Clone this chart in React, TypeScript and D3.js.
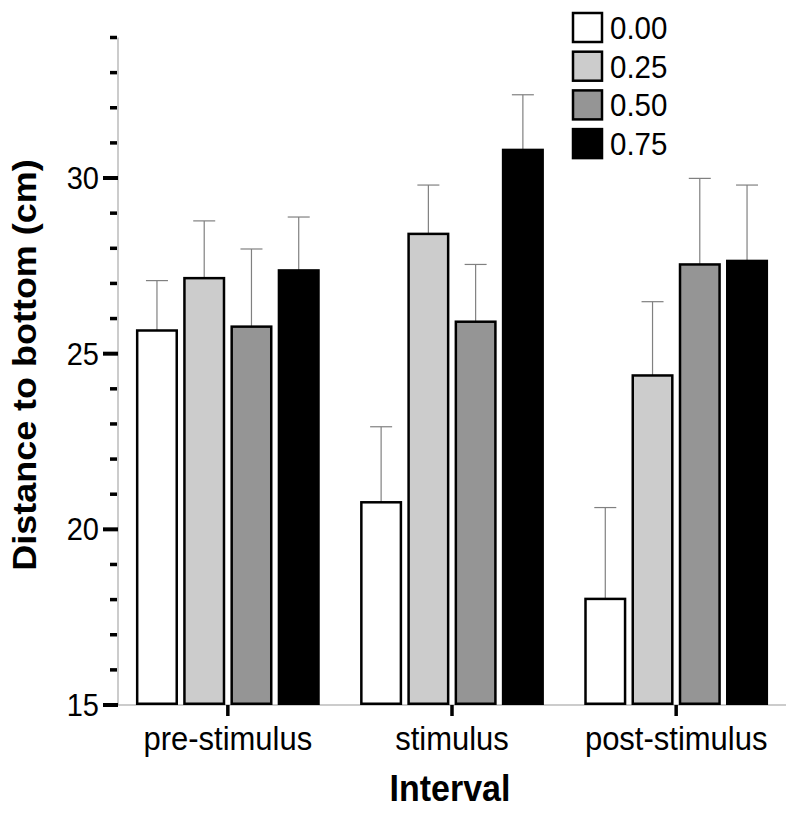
import * as d3 from "d3";

const intervals = ["pre-stimulus", "stimulus", "post-stimulus"];
const levels = ["0.00", "0.25", "0.50", "0.75"];
const fills = ["#ffffff", "#cccccc", "#959595", "#000000"];

// mean distance per level, one array per interval
const preMeans = [25.66, 27.15, 25.77, 27.37];
const stimMeans = [20.77, 28.41, 25.91, 30.8];
const postMeans = [18.02, 24.38, 27.54, 27.64];
// upper error (SE) per level
const preErr = [1.42, 1.63, 2.21, 1.52];
const stimErr = [2.15, 1.39, 1.63, 1.57];
const postErr = [2.6, 2.1, 2.45, 2.16];

const majorTicks = [15, 20, 25, 30];
const minorTicks = [16, 17, 18, 19, 21, 22, 23, 24, 26, 27, 28, 29, 31, 32, 33, 34];

const means = [preMeans, stimMeans, postMeans];
const errs = [preErr, stimErr, postErr];

const W = 800;
const H = 816;
const left = 118;
const right = 786;
const bottom = 705;
const top = 37.5;
const font = "'Liberation Sans', Arial, sans-serif";
const sy = 1.09; // text in the source is slightly stretched vertically

const x = d3.scaleBand<string>().domain(intervals).range([left, right]).paddingInner(0.18).paddingOuter(0.08);
const xi = d3.scaleBand<string>().domain(levels).range([0, x.bandwidth()]).paddingInner(0.11);
const y = d3.scaleLinear().domain([15, 34]).range([bottom, top]);

function T({ x: tx, y: ty, children, ...rest }: any) {
  return (
    <text transform={`translate(${tx},${ty}) scale(1,${sy})`} fontFamily={font} {...rest}>
      {children}
    </text>
  );
}

export default function App() {
  const capW = 22;
  return (
    <svg width={W} height={H} style={{ position: "absolute", left: 0, top: 0, background: "#fff" }}>
      {/* axes lines */}
      <line x1={left} x2={left} y1={top} y2={bottom} stroke="#999" strokeWidth={1} />
      <line x1={left} x2={right} y1={bottom} y2={bottom} stroke="#999" strokeWidth={1} />

      {/* error bars first so bars cover the line base */}
      {intervals.map((iv, g) =>
        levels.map((lv, i) => {
          const cx = x(iv)! + xi(lv)! + xi.bandwidth() / 2;
          const yt = y(means[g][i] + errs[g][i]);
          return (
            <g key={`e-${iv}-${lv}`} stroke="#808080" strokeWidth={1.2}>
              <line x1={cx} x2={cx} y1={y(means[g][i])} y2={yt} />
              <line x1={cx - capW / 2} x2={cx + capW / 2} y1={yt} y2={yt} />
            </g>
          );
        })
      )}

      {intervals.map((iv, g) =>
        levels.map((lv, i) => (
          <rect
            key={`b-${iv}-${lv}`}
            x={x(iv)! + xi(lv)! + 1.25}
            y={y(means[g][i])}
            width={xi.bandwidth() - 2.5}
            height={y(15) - y(means[g][i]) - 1.25}
            fill={fills[i]}
            stroke="#000"
            strokeWidth={2.5}
          />
        ))
      )}

      {/* y ticks */}
      {minorTicks.map((t) => (
        <line key={`mn-${t}`} x1={110} x2={117} y1={y(t)} y2={y(t)} stroke="#000" strokeWidth={3.5} />
      ))}
      {majorTicks.map((t) => (
        <g key={`mj-${t}`}>
          <line x1={103} x2={118} y1={y(t)} y2={y(t)} stroke="#000" strokeWidth={4} />
          <T x={99} y={y(t)} fontSize={29} textAnchor="end" dominantBaseline="central">
            {t}
          </T>
        </g>
      ))}

      {/* x ticks and labels */}
      {intervals.map((iv) => {
        const cx = x(iv)! + x.bandwidth() / 2;
        return (
          <g key={`x-${iv}`}>
            <line x1={cx} x2={cx} y1={bottom} y2={bottom + 11} stroke="#000" strokeWidth={3.5} />
            <T x={cx} y={750} fontSize={31} textAnchor="middle">
              {iv}
            </T>
          </g>
        );
      })}

      <T x={450} y={801} fontSize={34} fontWeight="bold" textAnchor="middle">
        Interval
      </T>
      <text
        transform={`translate(36,365) rotate(-90) scale(${sy},1)`}
        fontFamily={font}
        fontSize={33}
        fontWeight="bold"
        textAnchor="middle"
      >
        Distance to bottom (cm)
      </text>

      {/* legend */}
      {levels.map((lv, i) => {
        const ly = 13 + i * 38.7;
        return (
          <g key={`l-${lv}`}>
            <rect x={573} y={ly} width={29} height={29} fill={fills[i]} stroke="#000" strokeWidth={2.5} />
            <T x={610} y={ly + 15} fontSize={29.5} dominantBaseline="central">
              {lv}
            </T>
          </g>
        );
      })}
    </svg>
  );
}
